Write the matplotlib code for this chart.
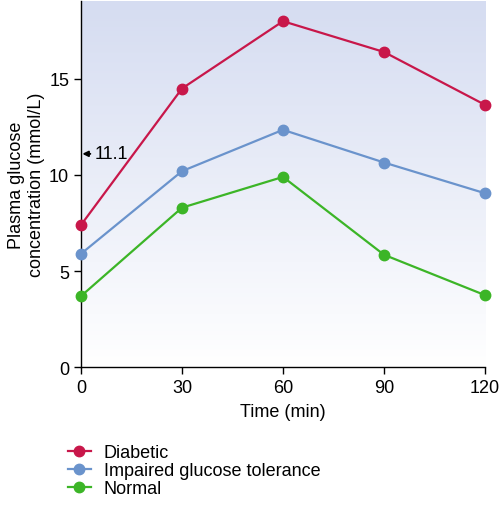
import matplotlib
matplotlib.use("Agg")
import matplotlib.pyplot as plt
import numpy as np

plt.rcParams['font.family'] = ['Liberation Sans', 'DejaVu Sans']

# time points (min)
times = [0, 30, 60, 90, 120]
# plasma glucose (mmol/L)
diabetic = [7.4, 14.5, 18.0, 16.4, 13.65]
impaired = [5.9, 10.2, 12.35, 10.65, 9.05]
normal = [3.7, 8.3, 9.9, 5.85, 3.75]

series_names = ["Diabetic", "Impaired glucose tolerance", "Normal"]
series_colors = ["#c8174a", "#6a93cc", "#3cb527"]

fig = plt.figure(figsize=(5.0, 5.1), dpi=100)
ax = fig.add_axes([0.162, 0.278, 0.808, 0.718])

# background gradient: light blue at top fading to white
grad = np.linspace(0, 1, 256).reshape(-1, 1)
top = np.array([0.835, 0.863, 0.945])
bot = np.array([1.0, 1.0, 1.0])
img = bot + (top - bot) * grad
ax.imshow(img[:, None, :].repeat(2, axis=1), aspect='auto', origin='lower',
          extent=[0, 120, 0, 19.05], zorder=0)

for vals, name, col in zip([diabetic, impaired, normal], series_names, series_colors):
    ax.plot(times, vals, color=col, lw=1.6, marker='o', ms=7.5, label=name,
            clip_on=False, zorder=3)

ax.set_xlim(0, 120)
ax.set_ylim(0, 19.05)
ax.set_xticks(times)
ax.set_yticks([0, 5, 10, 15])
for s in ['top', 'right']:
    ax.spines[s].set_visible(False)
ax.spines['left'].set_linewidth(1.0)
ax.spines['bottom'].set_linewidth(1.0)
ax.tick_params(direction='out', length=5, width=1, labelsize=13)
ax.set_xlabel("Time (min)", fontsize=13, labelpad=5)
ax.set_ylabel("Plasma glucose\nconcentration (mmol/L)", fontsize=13, labelpad=3)

# 11.1 mmol/L marker
ax.annotate("11.1", xy=(0.4, 11.1), xytext=(4.0, 11.1), fontsize=13,
            va='center', ha='left',
            arrowprops=dict(arrowstyle='-|>', color='black', lw=1.4,
                            mutation_scale=8, shrinkA=1, shrinkB=0))

handles, labels = ax.get_legend_handles_labels()
fig.legend(handles, labels, loc='upper left', bbox_to_anchor=(0.121, 0.141),
           frameon=False, fontsize=13, handlelength=1.3, labelspacing=0.05,
           handletextpad=0.7, borderaxespad=0)

fig.savefig("out.png", dpi=100)
